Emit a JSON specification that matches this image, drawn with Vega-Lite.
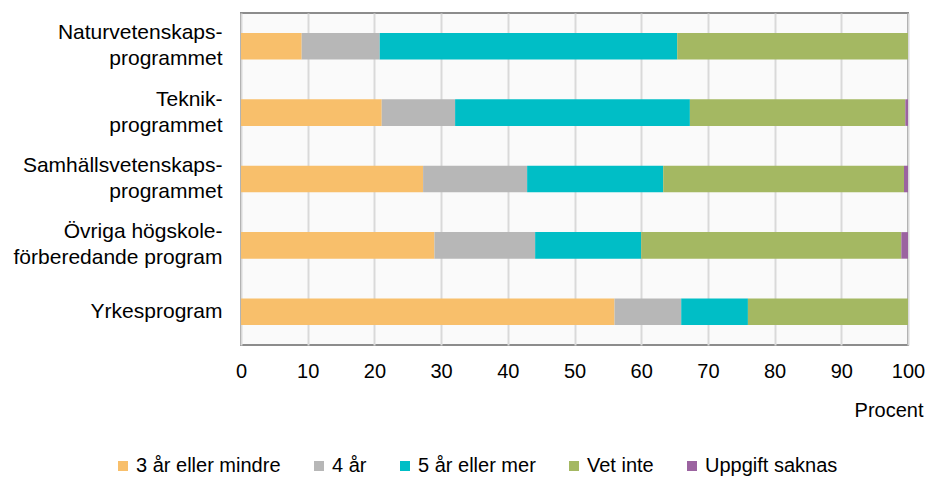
{
  "$schema": "https://vega.github.io/schema/vega-lite/v6.json",
  "width": 667,
  "height": 332,
  "autosize": "none",
  "padding": {"left": 241, "top": 13, "right": 18, "bottom": 132},
  "background": "white",
  "config": {
    "font": "Liberation Sans",
    "view": {"fill": "#fafafa", "stroke": "#8c8c8c", "strokeWidth": 2}
  },
  "data": {
    "values": [
      {"program": "Naturvetenskaps-|programmet", "kategori": "3 år eller mindre", "ord": 1, "procent": 9.1},
      {"program": "Naturvetenskaps-|programmet", "kategori": "4 år", "ord": 2, "procent": 11.7},
      {"program": "Naturvetenskaps-|programmet", "kategori": "5 år eller mer", "ord": 3, "procent": 44.6},
      {"program": "Naturvetenskaps-|programmet", "kategori": "Vet inte", "ord": 4, "procent": 34.6},
      {"program": "Naturvetenskaps-|programmet", "kategori": "Uppgift saknas", "ord": 5, "procent": 0},
      {"program": "Teknik-|programmet", "kategori": "3 år eller mindre", "ord": 1, "procent": 21.1},
      {"program": "Teknik-|programmet", "kategori": "4 år", "ord": 2, "procent": 11.0},
      {"program": "Teknik-|programmet", "kategori": "5 år eller mer", "ord": 3, "procent": 35.2},
      {"program": "Teknik-|programmet", "kategori": "Vet inte", "ord": 4, "procent": 32.3},
      {"program": "Teknik-|programmet", "kategori": "Uppgift saknas", "ord": 5, "procent": 0.4},
      {"program": "Samhällsvetenskaps-|programmet", "kategori": "3 år eller mindre", "ord": 1, "procent": 27.3},
      {"program": "Samhällsvetenskaps-|programmet", "kategori": "4 år", "ord": 2, "procent": 15.6},
      {"program": "Samhällsvetenskaps-|programmet", "kategori": "5 år eller mer", "ord": 3, "procent": 20.4},
      {"program": "Samhällsvetenskaps-|programmet", "kategori": "Vet inte", "ord": 4, "procent": 36.1},
      {"program": "Samhällsvetenskaps-|programmet", "kategori": "Uppgift saknas", "ord": 5, "procent": 0.6},
      {"program": "Övriga högskole-|förberedande program", "kategori": "3 år eller mindre", "ord": 1, "procent": 29.0},
      {"program": "Övriga högskole-|förberedande program", "kategori": "4 år", "ord": 2, "procent": 15.1},
      {"program": "Övriga högskole-|förberedande program", "kategori": "5 år eller mer", "ord": 3, "procent": 15.9},
      {"program": "Övriga högskole-|förberedande program", "kategori": "Vet inte", "ord": 4, "procent": 39.0},
      {"program": "Övriga högskole-|förberedande program", "kategori": "Uppgift saknas", "ord": 5, "procent": 1.0},
      {"program": "Yrkesprogram", "kategori": "3 år eller mindre", "ord": 1, "procent": 56.0},
      {"program": "Yrkesprogram", "kategori": "4 år", "ord": 2, "procent": 10.0},
      {"program": "Yrkesprogram", "kategori": "5 år eller mer", "ord": 3, "procent": 10.0},
      {"program": "Yrkesprogram", "kategori": "Vet inte", "ord": 4, "procent": 24.0},
      {"program": "Yrkesprogram", "kategori": "Uppgift saknas", "ord": 5, "procent": 0}
    ]
  },
  "mark": {"type": "bar"},
  "encoding": {
    "y": {
      "field": "program",
      "type": "nominal",
      "sort": ["Naturvetenskaps-|programmet", "Teknik-|programmet", "Samhällsvetenskaps-|programmet", "Övriga högskole-|förberedande program", "Yrkesprogram"],
      "scale": {"paddingInner": 0.6, "paddingOuter": 0.3},
      "axis": {
        "title": null,
        "labelExpr": "split(datum.value, '|')",
        "labelFontSize": 21,
        "labelColor": "#000000",
        "labelLineHeight": 26,
        "labelPadding": 19,
        "labelLimit": 300,
        "labelOffset": {"condition": {"test": "indexof(datum.value, '|') >= 0", "value": -13}, "value": 0},
        "ticks": false,
        "domain": false,
        "grid": false
      }
    },
    "x": {
      "field": "procent",
      "type": "quantitative",
      "stack": "zero",
      "scale": {"domain": [0, 100], "nice": false},
      "axis": {
        "values": [0, 10, 20, 30, 40, 50, 60, 70, 80, 90, 100],
        "grid": true,
        "gridColor": "#d9d9d9",
        "gridWidth": 2,
        "ticks": false,
        "domain": false,
        "labelFlush": false,
        "labelOverlap": false,
        "labelFontSize": 20,
        "labelColor": "#000000",
        "labelPadding": 16,
        "title": "Procent",
        "titleFontSize": 20,
        "titleFontWeight": "normal",
        "titleColor": "#000000",
        "titleAlign": "right",
        "titleBaseline": "top",
        "titleX": 682,
        "titleY": 55
      }
    },
    "color": {
      "field": "kategori",
      "type": "nominal",
      "scale": {
        "domain": ["3 år eller mindre", "4 år", "5 år eller mer", "Vet inte", "Uppgift saknas"],
        "range": ["#f8bf6b", "#b7b7b7", "#00bec6", "#a4b862", "#9b63a0"]
      },
      "legend": {
        "title": null,
        "orient": "none",
        "direction": "horizontal",
        "legendX": -128,
        "legendY": 443,
        "symbolType": "square",
        "symbolSize": 100,
        "symbolStrokeWidth": 0,
        "labelFontSize": 20,
        "labelColor": "#000000",
        "labelOffset": 3,
        "columnPadding": 28,
        "labelLimit": 300
      }
    },
    "order": {"field": "ord", "type": "ordinal"}
  }
}
